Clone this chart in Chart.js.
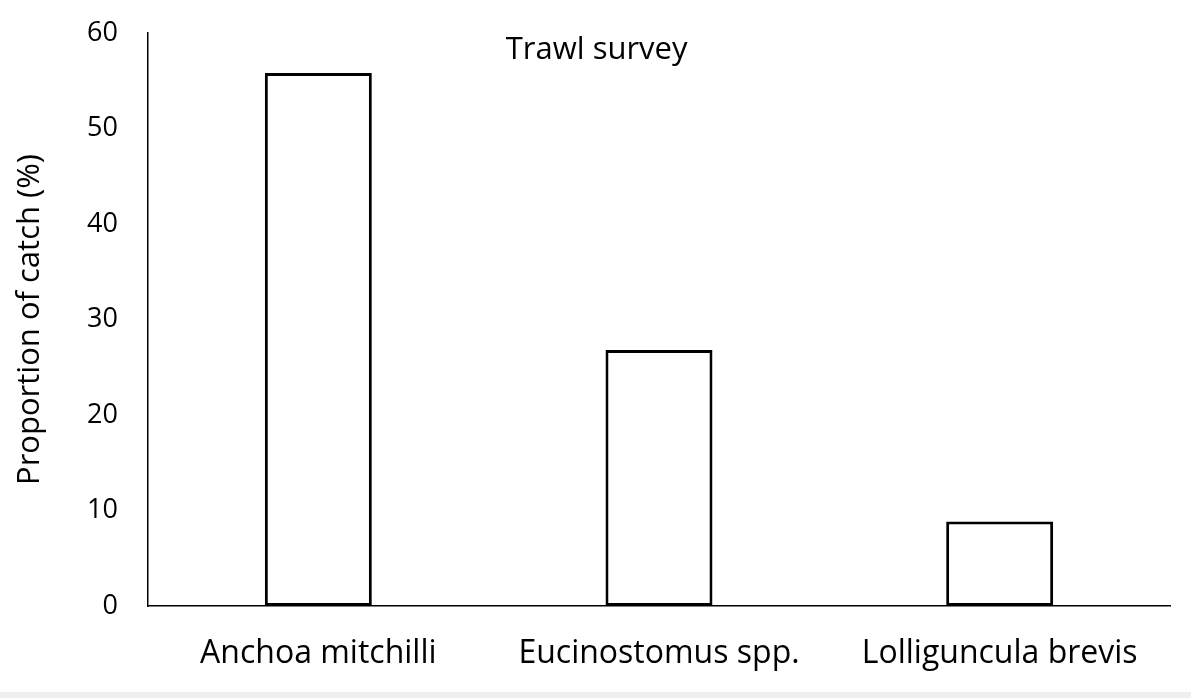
<!DOCTYPE html>
<html>
<head>
<meta charset="utf-8">
<script src="https://cdn.jsdelivr.net/npm/chart.js@4"></script>
<style>
    html, body { margin: 0; padding: 0; background: #ffffff; }
    #wrap { width: 1191px; height: 692px; position: relative; }
    #strip { width: 1191px; height: 6px; background: #efefef; }
</style>
</head>
<body>
<div id="wrap"><canvas id="chart"></canvas></div>
<div id="strip"></div>
<script>
// --------------------------------------------------------------------------
// DATA
// --------------------------------------------------------------------------
const species = ['Anchoa mitchilli', 'Eucinostomus spp.', 'Lolliguncula brevis'];
const catchPct = [55.8, 26.8, 8.85];
const yTicks = [0, 10, 20, 30, 40, 50, 60];
const panelTitle = 'Trawl survey';
const yTitle = 'Proportion of catch (%)';

const FONT = "'Open Sans', 'Noto Sans', sans-serif";

// title sits inside the plot, a bit left of centre
const panelTitlePlugin = {
    id: 'panelTitle',
    afterDraw(chart) {
        const { ctx, chartArea } = chart;
        ctx.save();
        ctx.font = `31px ${FONT}`;
        ctx.fillStyle = '#000';
        ctx.textAlign = 'center';
        ctx.textBaseline = 'middle';
        const x = chartArea.left + (chartArea.right - chartArea.left) * 0.439;
        ctx.fillText(panelTitle, x, chartArea.top + 17);
        ctx.restore();
    }
};

new Chart(document.getElementById('chart'), {
    type: 'bar',
    data: {
        labels: species,
        datasets: [{
            data: catchPct,
            backgroundColor: '#ffffff',
            borderColor: '#000000',
            borderWidth: 3,
            borderSkipped: false,
            barPercentage: 0.314,
            categoryPercentage: 1.0
        }]
    },
    options: {
        responsive: true,
        maintainAspectRatio: false,
        animation: false,
        layout: { padding: { top: 33, right: 21, bottom: 0, left: 0 } },
        plugins: { legend: { display: false }, tooltip: { enabled: false } },
        scales: {
            x: {
                grid: { display: false, drawTicks: false },
                border: { display: true, color: '#000', width: 1.5 },
                ticks: { color: '#000', font: { family: FONT, size: 32 }, padding: 29 },
                afterFit: axis => { axis.height = 86; axis.paddingLeft = 0; axis.paddingRight = 0; }
            },
            y: {
                min: 0,
                max: 60,
                afterBuildTicks: axis => { axis.ticks = yTicks.map(v => ({ value: v })); },
                grid: { display: false, drawTicks: false },
                border: { display: true, color: '#000', width: 1.5 },
                ticks: { color: '#000', font: { family: FONT, size: 27 }, padding: 30 },
                title: {
                    display: true,
                    text: yTitle,
                    color: '#000',
                    font: { family: FONT, size: 31 },
                    padding: { top: 12, bottom: 0 }
                },
                afterFit: axis => { axis.width = 148; axis.paddingTop = 0; axis.paddingBottom = 0; }
            }
        }
    },
    plugins: [panelTitlePlugin]
});
</script>
</body>
</html>
